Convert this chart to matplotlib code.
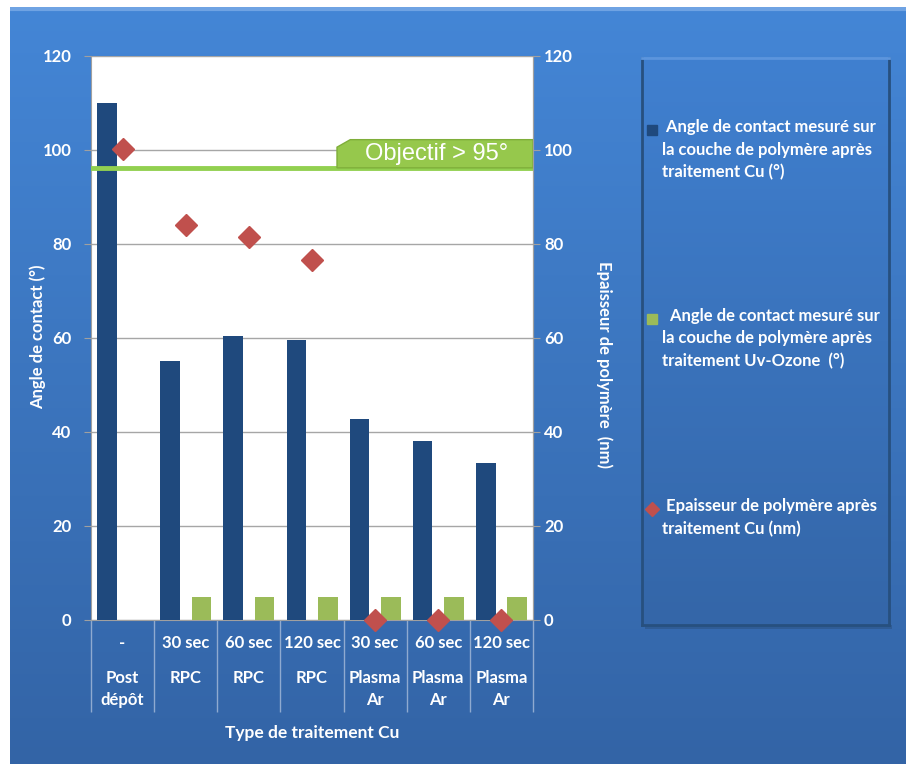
import numpy as np
import matplotlib
matplotlib.use("Agg")
import matplotlib.pyplot as plt
from matplotlib.patches import Rectangle, Polygon
from matplotlib.transforms import blended_transform_factory
from matplotlib.lines import Line2D

plt.rcParams['font.family'] = ['Lato', 'DejaVu Sans']

# ---- data ----
cat_top = ["-", "30 sec", "60 sec", "120 sec", "30 sec", "60 sec", "120 sec"]
cat_bottom = ["Post\ndépôt", "RPC", "RPC", "RPC", "Plasma\nAr", "Plasma\nAr", "Plasma\nAr"]
angle_cu = [110.0, 55.2, 60.4, 59.5, 42.7, 38.1, 33.4]
angle_uv = [np.nan, 5.0, 5.0, 5.0, 5.0, 5.0, 5.0]
epaisseur = [100.2, 84.0, 81.5, 76.7, 0.0, 0.0, 0.0]
objectif = 96.2
yticks = [0, 20, 40, 60, 80, 100, 120]
legend_labels = [" Angle de contact mesuré sur\nla couche de polymère après\ntraitement Cu (°)",
                 "  Angle de contact mesuré sur\nla couche de polymère après\ntraitement Uv-Ozone  (°)",
                 " Epaisseur de polymère après\ntraitement Cu (nm)"]

W, H = 908, 767
fig = plt.figure(figsize=(W / 100, H / 100), dpi=100, facecolor='white')

def fx(x):
    return x / W

def fy(y):
    return 1 - y / H

# ---- background panel (gradient) ----
bg = fig.add_axes([fx(10), fy(764), fx(896), 757 / H], zorder=-10)
grad = np.linspace(0, 1, 256).reshape(-1, 1)
top_c = np.array([0x44, 0x86, 0xD6]) / 255
bot_c = np.array([0x33, 0x64, 0xA6]) / 255
img = top_c[None, None, :] * (1 - grad[:, :, None]) + bot_c[None, None, :] * grad[:, :, None]
bg.imshow(img, aspect='auto', extent=[0, 1, 0, 1], origin='upper')
bg.axhline(0.997, color='#6FA3E3', lw=3)
bg.set_axis_off()

# ---- legend box ----
lb = fig.add_axes([fx(642), fy(625), fx(247), (625 - 58) / H], zorder=-5)
top_l = np.array([0x40, 0x80, 0xD0]) / 255
bot_l = np.array([0x34, 0x66, 0xA8]) / 255
img2 = top_l[None, None, :] * (1 - grad[:, :, None]) + bot_l[None, None, :] * grad[:, :, None]
lb.imshow(img2, aspect='auto', extent=[0, 1, 0, 1], origin='upper')
lb.set_xlim(0, 1)
lb.set_ylim(0, 1)
for s in lb.spines.values():
    s.set_color('#27507F')
    s.set_linewidth(2)
lb.spines['top'].set_color('#5C95DD')
lb.set_xticks([])
lb.set_yticks([])
fig.patches.append(Rectangle((fx(645), fy(629)), fx(247), 4 / H, transform=fig.transFigure,
                             facecolor='#2A4F80', alpha=0.5, zorder=-6))

# ---- main axes ----
ax = fig.add_axes([fx(91), fy(620), fx(533 - 91), (620 - 56) / H])
ax.set_facecolor('white')
x = np.arange(len(cat_top))
ax.bar(x - 0.247, angle_cu, width=0.31, color='#1F497D', zorder=3)
ax.bar(x + 0.25, angle_uv, width=0.31, color='#9BBB59', zorder=3)
ax.set_xlim(-0.5, len(cat_top) - 0.5)
ax.set_ylim(0, 120)
ax.set_yticks(yticks)
ax.grid(axis='y', color='#A6A6A6', lw=1, zorder=0)
ax.spines['top'].set_visible(False)
for sp in ['left', 'right', 'bottom']:
    ax.spines[sp].set_color('#A0A0A0')
ax.tick_params(axis='y', colors='#A0A0A0', length=5, labelcolor='white', labelsize=12, pad=9)
for lab in ax.get_yticklabels():
    lab.set_fontweight('bold')
ax.set_xticks(x)
ax.set_xticklabels(cat_top, color='white', fontsize=12, fontweight='bold')
ax.tick_params(axis='x', which='major', length=0, pad=11)
ax.set_xticks(np.arange(-0.5, len(cat_top), 1.0), minor=True)
ax.tick_params(axis='x', which='minor', length=66, color='#8FAAD0', width=1)
trans = blended_transform_factory(ax.transData, fig.transFigure)
for i, lab in enumerate(cat_bottom):
    ax.text(i, fy(670), lab, transform=trans, ha='center', va='top', color='white',
            fontsize=12, fontweight='bold', linespacing=1.45)

ax.text(0.5, fy(733), "Type de traitement Cu", transform=blended_transform_factory(ax.transAxes, fig.transFigure),
        ha='center', va='center', color='white', fontsize=12.5, fontweight='bold')
fig.text(fx(38), fy(337), "Angle de contact (°)", rotation=90, ha='center', va='center',
         color='white', fontsize=12, fontweight='bold')
fig.text(fx(604), fy(365), "Epaisseur de polymère  (nm)", rotation=-90, ha='center', va='center',
         color='white', fontsize=12, fontweight='bold')

# objective line and label
ax.axhline(objectif, color='#92D050', lw=3.5, zorder=4)
bt = blended_transform_factory(ax.transAxes, ax.transData)
x0 = (337 - 91) / 442
ytop = 102.2
ybot = objectif
poly = Polygon([(x0, ybot), (x0, ytop - 1.6), (x0 + 0.03, ytop), (1.0, ytop), (1.0, ybot)],
               closed=True, transform=bt, facecolor='#96C84C', edgecolor='#7FAE3A', lw=1, zorder=5)
ax.add_patch(poly)
ax.text((437 - 91) / 442, (ytop + ybot) / 2, "Objectif > 95°", transform=bt, ha='center', va='center',
        color='white', fontsize=17, family=['Liberation Sans', 'DejaVu Sans'], zorder=6)

# ---- secondary axis ----
ax2 = ax.twinx()
ax2.plot(x, epaisseur, linestyle='none', marker='D', color='#C0504D', markersize=11, clip_on=False, zorder=6)
ax2.set_ylim(0, 120)
ax2.set_yticks(yticks)
for sp in ['top', 'left', 'bottom']:
    ax2.spines[sp].set_visible(False)
ax2.spines['right'].set_color('#A0A0A0')
ax2.tick_params(axis='y', colors='#A0A0A0', length=5, labelcolor='white', labelsize=12, pad=3)
for lab in ax2.get_yticklabels():
    lab.set_fontweight('bold')

# ---- legend entries ----
markers = [('s', '#1F497D', 130), ('s', '#9BBB59', 319), ('D', '#C0504D', 509)]
for (m, c, yy), lab in zip(markers, legend_labels):
    fig.add_artist(Line2D([fx(652)], [fy(yy)], marker=m, color=c, markersize=7,
                          linestyle='none', transform=fig.transFigure))
    fig.text(fx(662), fy(yy - 11), lab, ha='left', va='top', color='white', fontsize=12,
             fontweight='bold', linespacing=1.5)

fig.savefig('out.png', dpi=100, facecolor='white')
